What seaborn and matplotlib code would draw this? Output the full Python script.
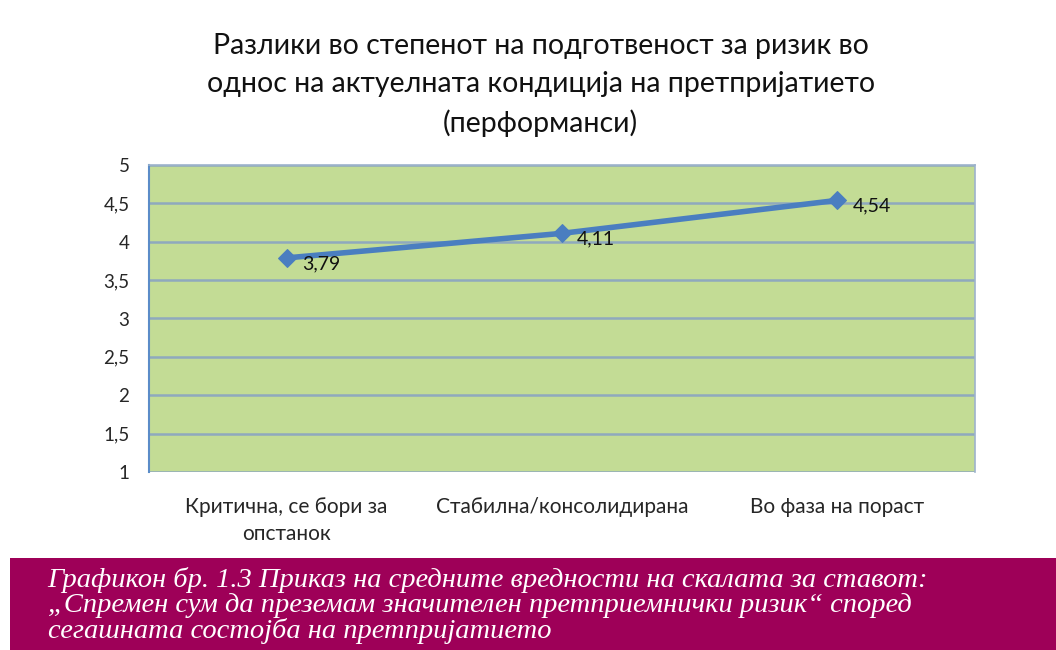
import matplotlib
matplotlib.use('Agg')
import matplotlib.pyplot as plt
import seaborn as sns
import pandas as pd
from matplotlib.patches import Rectangle

# податоци
kategorii = ['Критична, се бори за\nопстанок', 'Стабилна/консолидирана', 'Во фаза на пораст']
vrednosti = [3.79, 4.11, 4.54]
y_ticks = [1, 1.5, 2, 2.5, 3, 3.5, 4, 4.5, 5]

naslov = ('Разлики во степенот на подготвеност за ризик во\n'
          'однос на актуелната кондиција на претпријатието\n'
          '(перформанси)')
potpis = ('Графикон бр. 1.3 Приказ на средните вредности на скалата за ставот:\n'
          '„Спремен сум да преземам значителен претприемнички ризик“ според\n'
          'сегашната состојба на претпријатието')

df = pd.DataFrame({'kategorija': kategorii, 'vrednost': vrednosti})

sns.set_theme(style='white')
plt.rcParams['font.family'] = ['Lato', 'DejaVu Sans']

fig = plt.figure(figsize=(10.56, 6.5), dpi=100)
ax = fig.add_axes([0.141, 0.274, 0.782, 0.472])
ax.set_facecolor('#C3DC95')

sns.lineplot(data=df, x='kategorija', y='vrednost', ax=ax, sort=False,
             color='#4A7EC0', linewidth=4, marker='D', markersize=9,
             markeredgecolor='#4A7EC0', zorder=3)

for i, v in enumerate(vrednosti):
    ax.annotate(f'{v:.2f}'.replace('.', ','), (i, v), xytext=(11, -4),
                textcoords='offset points', fontsize=14, va='center', ha='left',
                color='#111111')

ax.set_xlim(-0.5, 2.5)
ax.set_ylim(1, 5)
ax.set_yticks(y_ticks)
ax.set_yticklabels([str(t).replace('.0', '').replace('.', ',') for t in y_ticks], fontsize=13.5)
ax.tick_params(axis='y', length=0, pad=14)
ax.tick_params(axis='x', length=0, pad=18, labelsize=15)
for lbl in ax.get_xticklabels():
    lbl.set_linespacing(1.45)
ax.yaxis.grid(True, color='#8FA9BE', linewidth=1.8)
ax.set_axisbelow(True)
ax.set_xlabel('')
ax.set_ylabel('')
for s in ['top', 'right']:
    ax.spines[s].set_color('#9DB3CC')
    ax.spines[s].set_linewidth(1.2)
ax.spines['left'].set_color('#5B8CC8')
ax.spines['left'].set_linewidth(1.5)
ax.spines['bottom'].set_visible(False)

fig.text(0.512, 0.869, naslov, ha='center', va='center', fontsize=20.5,
         linespacing=1.55, color='#111111')

fig.patches.append(Rectangle((0.0095, 0), 0.9905, 0.1415, transform=fig.transFigure,
                             facecolor='#9E0058', edgecolor='none', zorder=0))
fig.text(0.045, 0.069, potpis, ha='left', va='center', fontsize=20.5,
         family=['Liberation Serif', 'DejaVu Serif'], style='italic',
         color='white', linespacing=1.0)

fig.savefig('out.png', dpi=100)
